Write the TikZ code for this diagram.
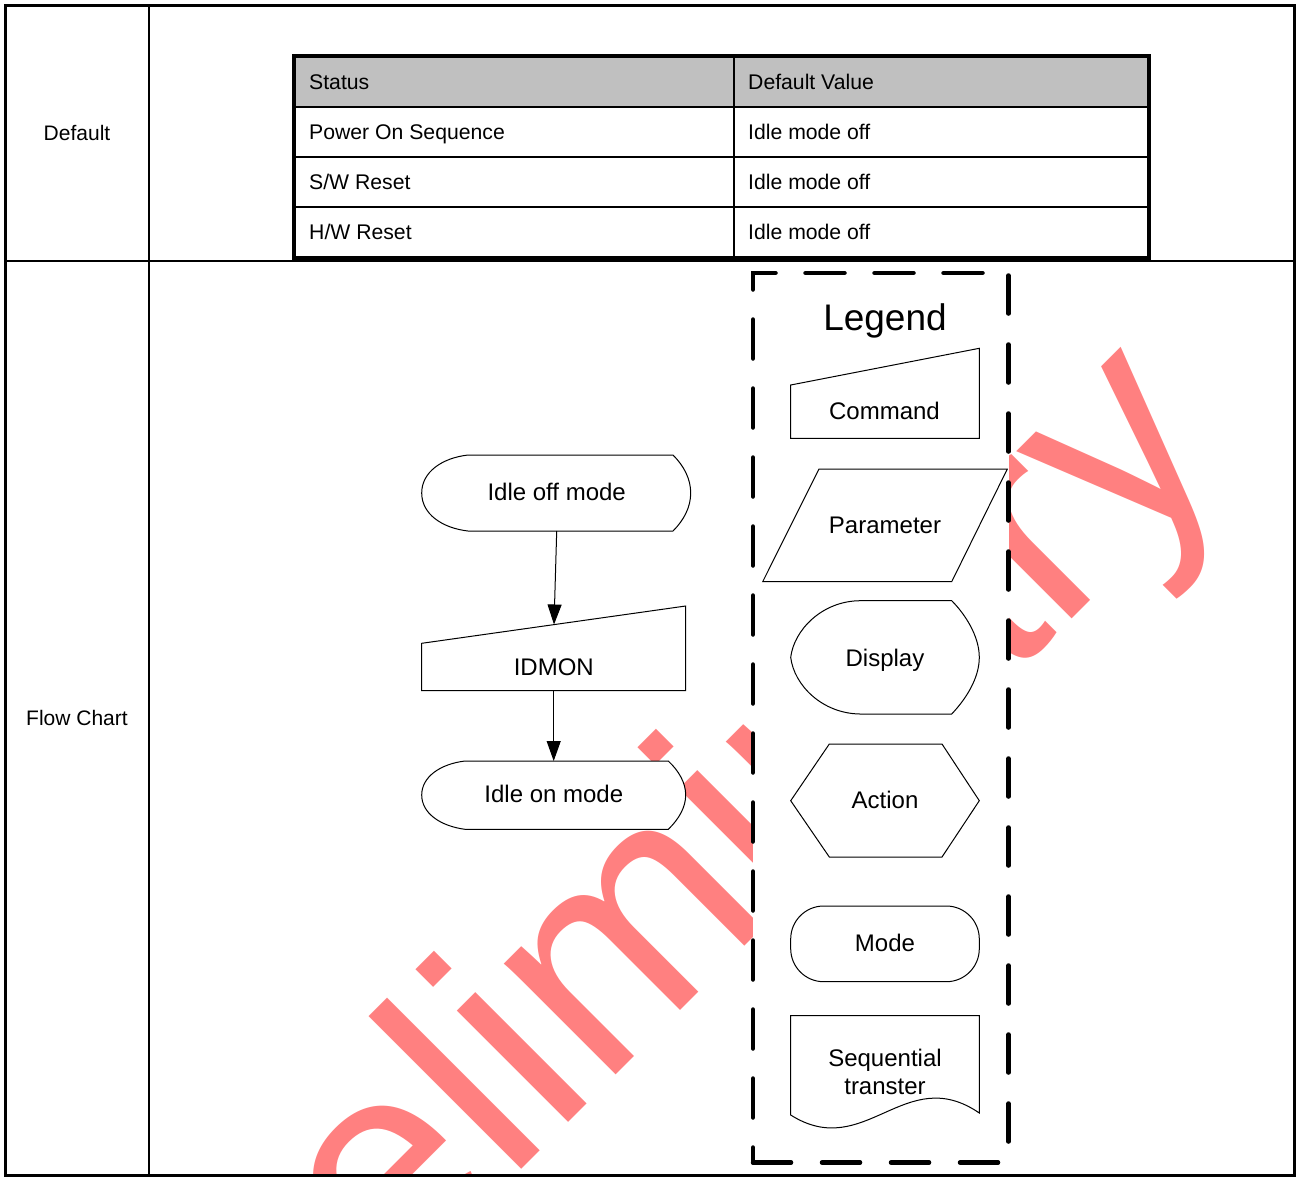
\documentclass[tikz,border=0pt]{standalone}
\usepackage{fontspec}
\setmainfont{Liberation Sans}
\usetikzlibrary{arrows.meta}
\definecolor{wm}{RGB}{255,128,128}
\definecolor{hdr}{RGB}{192,192,192}
\begin{document}
\begin{tikzpicture}[x=1pt,y=-1pt,
  shp/.style={draw=black, fill=white, line width=1pt, line join=miter},
  arr/.style={line width=1pt, -{Triangle[length=20pt,width=14pt]}},
  tbltxt/.style={anchor=base west, inner sep=0pt, font=\fontsize{21.2}{25}\selectfont},
  lbl/.style={anchor=base, inner sep=0pt, font=\fontsize{21}{25}\selectfont},
  ftxt/.style={anchor=base, inner sep=0pt, font=\fontsize{24}{28}\selectfont},
  legline/.style={line width=4.5pt, line cap=round},
]
\useasboundingbox (0,0) rectangle (1296,1176);
\fill[white] (0,0) rectangle (1296,1176);
% header fill
\fill[hdr] (294,56) rectangle (1148.7,107);
% watermark
\begin{scope}
\clip (0,0) rectangle (1296,1176);
\node[anchor=base west, inner sep=0pt, rotate=45, text=wm, font=\fontsize{298}{300}\selectfont] (wmark) at (179.5,1511.5) {Preliminary};
\end{scope}
% legend box fill
\fill[white] (753,273) rectangle (1008.5,1162.5);

% flow chart
\draw[shp] (468,455) -- (673,455) .. controls (684,466) and (690.7,479) .. (690.7,493) .. controls (690.7,507) and (684,520) .. (673,531) -- (468,531) .. controls (442,528) and (421.7,514) .. (421.7,493) .. controls (421.7,472) and (442,458) .. (468,455) -- cycle;
\node[ftxt] (off) at (556.7,500) {Idle off mode};
\draw[shp] (421.7,643.3) -- (685.7,606) -- (685.7,690.7) -- (421.7,690.7) -- cycle;
\node[ftxt] (idmon) at (553.8,675) {IDMON};
\draw[shp] (465,761) -- (668.3,761) .. controls (679,771) and (685.7,783) .. (685.7,795) .. controls (685.7,807) and (679,819) .. (668.3,829.3) -- (465,829.3) .. controls (440,826) and (421.7,813) .. (421.7,795) .. controls (421.7,777) and (440,764) .. (465,761) -- cycle;
\node[ftxt] (on) at (553.8,802.7) {Idle on mode};
\coordinate (offB) at (556.7,531);
\coordinate (idmT) at (554,624.5);
\coordinate (idmB) at (553.7,690.7);
\coordinate (onT) at (553.7,761);
\draw[arr] (offB) -- (idmT);
\draw[arr] (idmB) -- (onT);

% legend
\node[anchor=base, inner sep=0pt, font=\fontsize{37}{42}\selectfont] (legt) at (885,330.7) {Legend};
\draw[shp] (790.7,385) -- (979.3,348.3) -- (979.3,438.3) -- (790.7,438.3) -- cycle;
\node[ftxt] (lcmd) at (884.5,419.3) {Command};
\draw[shp] (819,469) -- (1007.3,469) -- (951.7,581.7) -- (762.7,581.7) -- cycle;
\node[ftxt] (lpar) at (885,533.3) {Parameter};
\draw[shp] (860,600.7) -- (951.7,600.7) .. controls (965,614) and (979.3,636) .. (979.3,657.3) .. controls (979.3,679) and (965,700) .. (951.7,714) -- (860,714) .. controls (822,713.5) and (794,685) .. (790.7,657.3) .. controls (794,630) and (822,601) .. (860,600.7) -- cycle;
\node[ftxt] (ldisp) at (885,666) {Display};
\draw[shp] (829.3,744) -- (942,744) -- (979.3,800.7) -- (942,857) -- (829.3,857) -- (790.7,800.7) -- cycle;
\node[ftxt] (lact) at (885,808.3) {Action};
\draw[shp, rounded corners=33pt] (790.7,906) rectangle (979.3,981.7);
\node[ftxt] (lmode) at (885,951) {Mode};
\draw[shp] (790.7,1015.5) -- (979.3,1015.5) -- (979.3,1113) .. controls (905,1062) and (865,1162) .. (790.7,1115) -- cycle;
\node[ftxt] (lseq1) at (885,1066) {Sequential};
\node[ftxt] (lseq2) at (885,1094) {transter};

% dashed legend border
\draw[legline, dash pattern=on 39pt off 30pt, dash phase=43pt] (1008.5,273) -- (753,273) -- (753,1162.5);
\draw[legline, dash pattern=on 38pt off 31pt] (753,1162.5) -- (1008.5,1162.5);
\draw[legline, dash pattern=on 38pt off 31pt, dash phase=66.5pt] (1008.5,273) -- (1008.5,1162.5);

% inner table
\draw[line width=2pt] (294,107) -- (1148.7,107);
\draw[line width=2pt] (294,157) -- (1148.7,157);
\draw[line width=2pt] (294,207) -- (1148.7,207);
\draw[line width=2pt] (734,56) -- (734,257.5);
\draw[line width=4pt] (294,56) rectangle (1148.7,257.5);
\node[tbltxt] (h1) at (309,89.5) {Status};
\node[tbltxt] (h2) at (748,89.5) {Default Value};
\node[tbltxt] (r1a) at (309,139.3) {Power On Sequence};
\node[tbltxt] (r1b) at (748,139.3) {Idle mode off};
\node[tbltxt] (r2a) at (309,189.3) {S/W Reset};
\node[tbltxt] (r2b) at (748,189.3) {Idle mode off};
\node[tbltxt] (r3a) at (309,239.3) {H/W Reset};
\node[tbltxt] (r3b) at (748,239.3) {Idle mode off};

% outer table
\draw[line width=3pt] (5,5) rectangle (1294.5,1175);
\draw[line width=2.3pt] (148.8,5) -- (148.8,1175);
\draw[line width=2.3pt] (5,261) -- (1294.5,261);
\node[lbl] (ldef) at (77,140.5) {Default};
\node[lbl] (lflow) at (77,725.5) {Flow Chart};
\end{tikzpicture}
\end{document}
